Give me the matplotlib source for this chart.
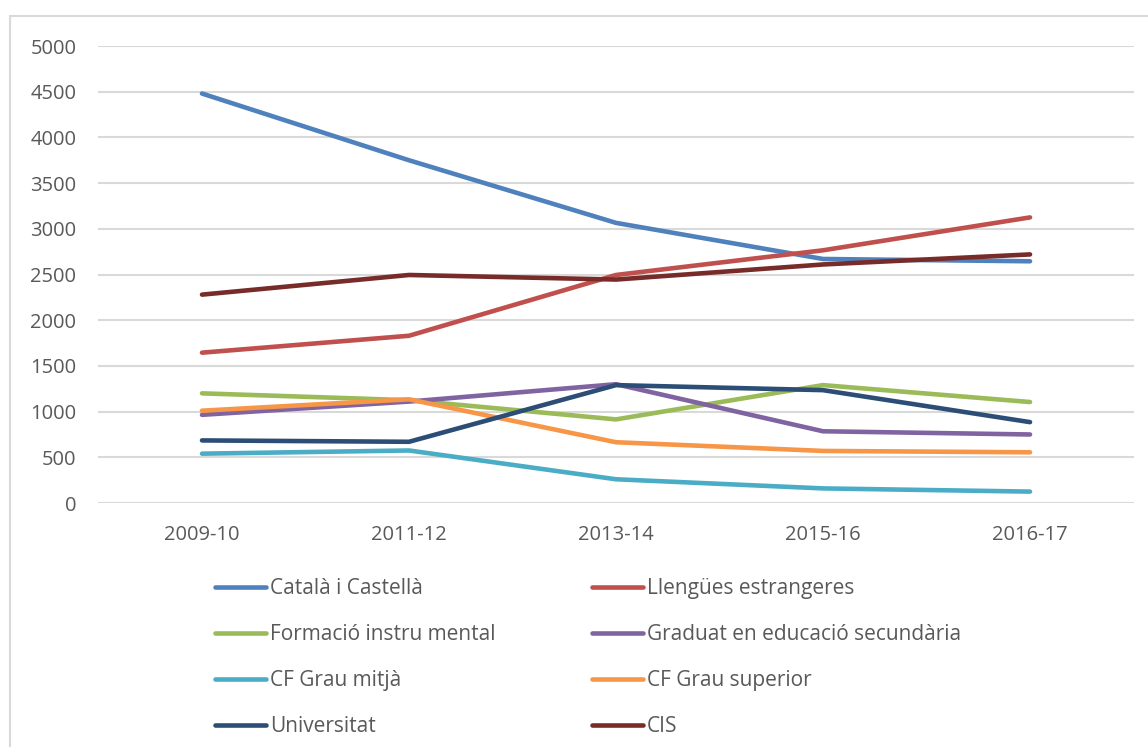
import numpy as np
import matplotlib.pyplot as plt
from matplotlib.patches import Rectangle

plt.rcParams['font.family'] = ['Open Sans', 'DejaVu Sans']

# dades llegides del grafic
anys = ['2009-10', '2011-12', '2013-14', '2015-16', '2016-17']
catala_castella = [4480, 3750, 3065, 2670, 2645]
llengues_estrangeres = [1645, 1830, 2495, 2765, 3125]
formacio_instrumental = [1200, 1125, 915, 1290, 1105]
graduat_secundaria = [965, 1110, 1300, 785, 750]
cf_grau_mitja = [540, 575, 260, 160, 125]
cf_grau_superior = [1010, 1135, 665, 570, 555]
universitat = [685, 670, 1290, 1235, 885]
cis = [2280, 2495, 2445, 2610, 2720]

noms = ['Català i Castellà', 'Llengües estrangeres', 'Formació instru mental',
        'Graduat en educació secundària', 'CF Grau mitjà', 'CF Grau superior',
        'Universitat', 'CIS']
series = [catala_castella, llengues_estrangeres, formacio_instrumental,
          graduat_secundaria, cf_grau_mitja, cf_grau_superior, universitat, cis]
colors = ['#4F81BD', '#C0504D', '#9BBB59', '#8064A2',
          '#4BACC6', '#F79646', '#2C4D75', '#772C2A']

fig = plt.figure(figsize=(11.48, 7.47), dpi=100)
ax = fig.add_axes([0.0858, 0.3266, 0.9016, 0.6118])

x = np.arange(len(anys))
lines = []
for s, c, n in zip(series, colors, noms):
    l, = ax.plot(x, s, color=c, lw=3.3, label=n, solid_capstyle='round',
                 solid_joinstyle='round')
    lines.append(l)

ax.set_xlim(-0.5, len(anys) - 0.5)
ax.set_ylim(0, 5000)
ax.set_yticks(np.arange(0, 5001, 500))
ax.set_xticks(x)
ax.set_xticklabels(anys)
ax.grid(axis='y', color='#D9D9D9', lw=1.5)
ax.set_axisbelow(True)
for sp in ax.spines.values():
    sp.set_visible(False)
ax.tick_params(axis='both', length=0, labelsize=14.5, labelcolor='#595959')
ax.tick_params(axis='x', pad=16)
ax.tick_params(axis='y', pad=16)

# vora del grafic
fig.patches.append(Rectangle((10/1148, -0.1), 1.2, 1 - 16/747 + 0.1,
                             transform=fig.transFigure, fill=False,
                             edgecolor='#D9D9D9', lw=1.5))

# llegenda en dues columnes
for idx, xpos in [([0, 2, 4, 6], 215/1148), ([1, 3, 5, 7], 592/1148)]:
    fig.legend([lines[i] for i in idx], [noms[i] for i in idx],
               loc='upper left', bbox_to_anchor=(xpos, 0.226),
               frameon=False, fontsize=15, labelcolor='#595959',
               handlelength=2.45, handletextpad=0.2, labelspacing=1.2,
               borderpad=0, borderaxespad=0)

fig.savefig('out.png', dpi=100)
